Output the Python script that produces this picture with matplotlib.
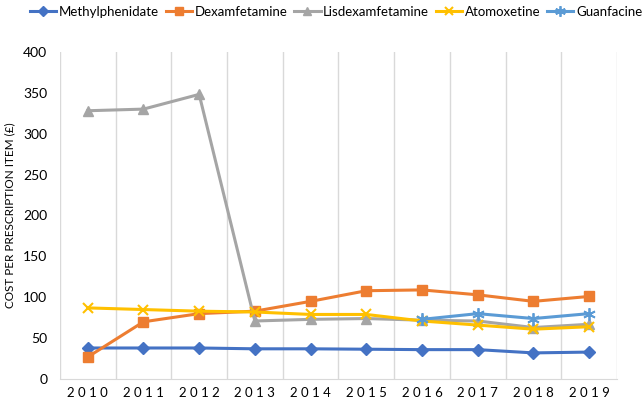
import numpy as np
import matplotlib.pyplot as plt

years = [2010, 2011, 2012, 2013, 2014, 2015, 2016, 2017, 2018, 2019]
methylphenidate = [38, 38, 38, 37, 37, 36.5, 36, 36, 32, 33]
dexamfetamine = [27, 70, 80, 83, 95, 108, 109, 103, 95, 101]
lisdexamfetamine = [328, 330, 348, 71, 73, 74, 72, 71, 63, 67]
atomoxetine = [87, 85, 83, 82, 79, 79, 71, 66, 61, 64]
guanfacine_years = [2016, 2017, 2018, 2019]
guanfacine = [73, 80, 74, 80]

plt.rcParams['font.family'] = ['Lato', 'DejaVu Sans']

fig = plt.figure(figsize=(6.44, 4.05), dpi=100)
ax = fig.add_axes([0.093, 0.064, 0.865, 0.808])

ax.plot(years, methylphenidate, color='#4472C4', lw=2.2, marker='D', ms=6, label='Methylphenidate')
ax.plot(years, dexamfetamine, color='#ED7D31', lw=2.2, marker='s', ms=7, label='Dexamfetamine')
ax.plot(years, lisdexamfetamine, color='#A5A5A5', lw=2.2, marker='^', ms=7, label='Lisdexamfetamine')
ax.plot(years, atomoxetine, color='#FFC000', lw=2.2, marker='x', ms=7, mew=1.5, label='Atomoxetine')
ax.plot(guanfacine_years, guanfacine, color='#5B9BD5', lw=2.2, marker=(6, 2, 0), ms=9, mew=1.3, label='Guanfacine')

ax.set_xlim(2009.5, 2019.5)
ax.set_ylim(0, 400)
ax.set_xticks(years)
ax.set_xticklabels([' '.join(str(y)) for y in years], fontsize=9.5)
ax.set_yticks(range(0, 401, 50))
ax.tick_params(axis='y', labelsize=10, length=0, pad=9)
ax.tick_params(axis='x', length=0, pad=6)
ax.set_xticks(np.arange(2009.5, 2020, 1), minor=True)
ax.tick_params(which='minor', length=0)
ax.grid(True, which='minor', axis='x', color='#D9D9D9', lw=1)
for s in ['top', 'right', 'left']:
    ax.spines[s].set_visible(False)
ax.spines['bottom'].set_color('#D9D9D9')

ax.set_ylabel('COST PER PRESCRIPTION ITEM (£)', fontsize=8.5, labelpad=6)

fig.legend(loc='upper center', bbox_to_anchor=(0.522, 1.015), ncol=5, frameon=False,
           fontsize=9.5, handlelength=2.0, columnspacing=0.5, handletextpad=0.2,
           markerscale=0.85)

fig.savefig('out.png', dpi=100)
